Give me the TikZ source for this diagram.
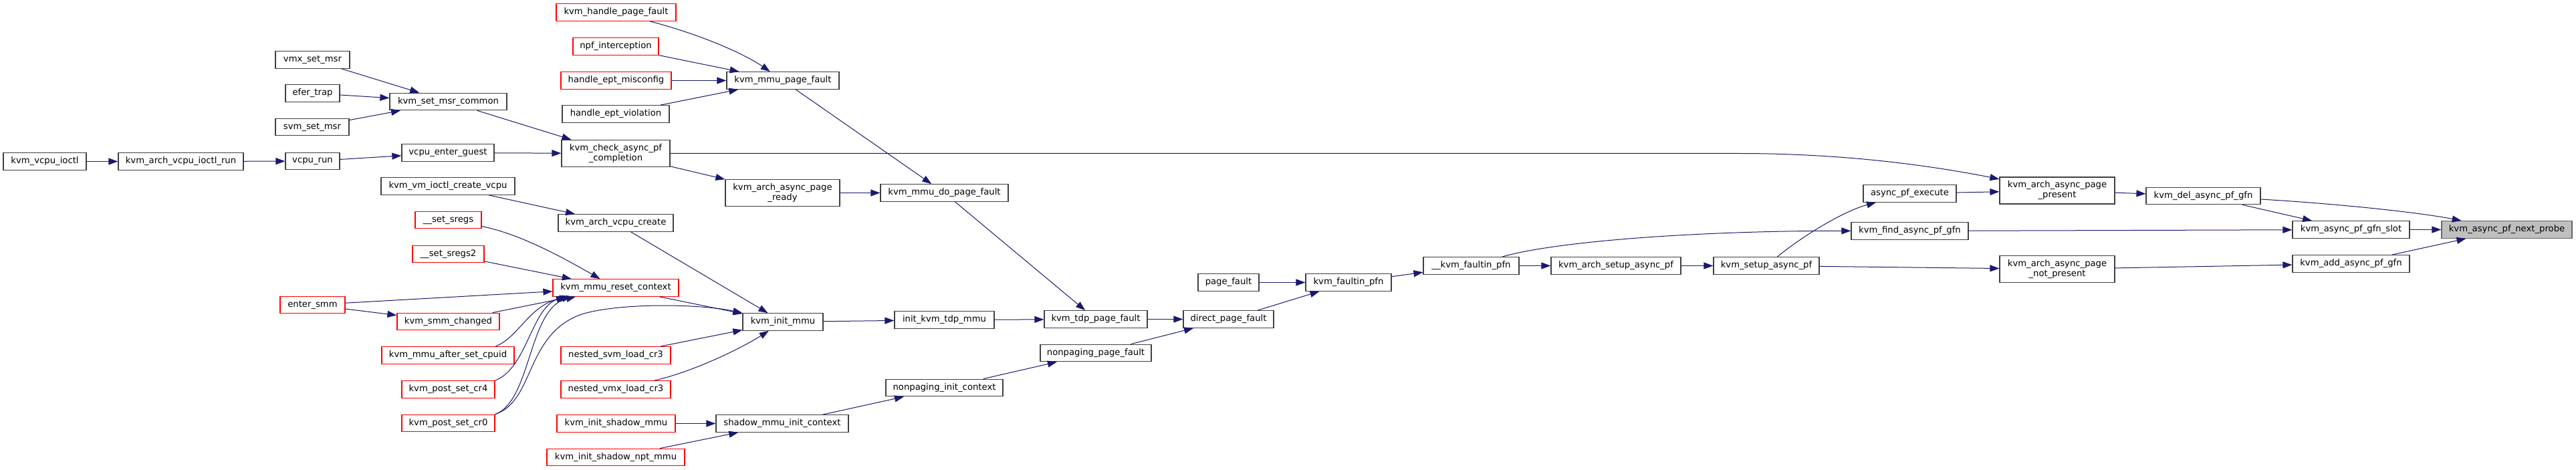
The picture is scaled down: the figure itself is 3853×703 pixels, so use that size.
\documentclass[tikz,border=0pt]{standalone}
\usepackage{fontspec}
\newfontfamily\dvs{DejaVu Sans}
\usetikzlibrary{arrows.meta,calc}
\definecolor{edgeblue}{HTML}{191970}
\definecolor{boxline}{HTML}{404040}
\definecolor{probefill}{HTML}{BFBFBF}
\definecolor{probeline}{HTML}{666666}
\tikzset{
 fn/.style={draw=boxline, line width=1.2pt, fill=white, minimum height=25.5pt, inner sep=0pt, text=black, font=\dvs\fontsize{13.2pt}{15pt}\selectfont},
 fnred/.style={fn, draw=red},
 fntwo/.style={fn, minimum height=40pt, align=center},
 fnmain/.style={fn, fill=probefill, draw=probeline},
 call/.style={draw=edgeblue, line width=1pt, -{Triangle[length=14pt,width=10pt]}},
}
\begin{document}
\begin{tikzpicture}[x=1pt,y=-1pt]
\fill[white] (0,0) rectangle (3853,703);
\useasboundingbox (0,0) rectangle (3853,703);
% column 1-2
\node[fn, minimum width=124pt] (vio) at (67,241.5) {kvm\_vcpu\_ioctl};
\node[fn, minimum width=187pt] (vior) at (270.5,241.5) {kvm\_arch\_vcpu\_ioctl\_run};
\node[fn, minimum width=81pt] (vrun) at (467.5,241) {vcpu\_run};
\node[fn, minimum width=111pt] (vmx) at (467.5,89.5) {vmx\_set\_msr};
\node[fn, minimum width=81pt] (efer) at (467.5,139.5) {efer\_trap};
\node[fn, minimum width=110pt] (svm) at (467,190) {svm\_set\_msr};
\node[fnred, minimum width=97pt] (esmm) at (467.5,456) {enter\_smm};
% column 3
\node[fn, minimum width=175pt] (msrc) at (670.5,152) {kvm\_set\_msr\_common};
\node[fn, minimum width=138pt] (veg) at (670,228.5) {vcpu\_enter\_guest};
\node[fn, minimum width=200pt] (vmcreate) at (670,278.5) {kvm\_vm\_ioctl\_create\_vcpu};
\node[fnred, minimum width=99pt] (ss) at (670.5,329) {\_\_set\_sregs};
\node[fnred, minimum width=107pt] (ss2) at (670.5,380) {\_\_set\_sregs2};
\node[fnred, minimum width=153pt] (smmc) at (670.5,481) {kvm\_smm\_changed};
\node[fnred, minimum width=198pt] (cpuid) at (670,531.5) {kvm\_mmu\_after\_set\_cpuid};
\node[fnred, minimum width=139pt] (cr4) at (670.5,582.5) {kvm\_post\_set\_cr4};
\node[fnred, minimum width=139pt] (cr0) at (670.5,633) {kvm\_post\_set\_cr0};
% column 4
\node[fnred, minimum width=179pt] (hpf) at (921.5,18.5) {kvm\_handle\_page\_fault};
\node[fnred, minimum width=128pt] (npf) at (921,69.5) {npf\_interception};
\node[fnred, minimum width=165pt] (mis) at (921.5,120.5) {handle\_ept\_misconfig};
\node[fn, minimum width=160pt] (viol) at (921,170.5) {handle\_ept\_violation};
\node[fntwo, minimum width=162pt] (chk) at (921,229.5) {kvm\_check\_async\_pf\\\_completion};
\node[fn, minimum width=172pt] (avc) at (921,333.5) {kvm\_arch\_vcpu\_create};
\node[fnred, minimum width=188pt] (reset) at (921,430.5) {kvm\_mmu\_reset\_context};
\node[fnred, minimum width=164pt] (nsvm) at (921,531.5) {nested\_svm\_load\_cr3};
\node[fnred, minimum width=164pt] (nvmx) at (921,582.5) {nested\_vmx\_load\_cr3};
\node[fnred, minimum width=177pt] (ism) at (921.5,633.5) {kvm\_init\_shadow\_mmu};
\node[fnred, minimum width=206pt] (isnpt) at (921,684) {kvm\_init\_shadow\_npt\_mmu};
% column 5
\node[fn, minimum width=168pt] (mpf) at (1171,120.5) {kvm\_mmu\_page\_fault};
\node[fntwo, minimum width=171pt] (ready) at (1170.5,288.5) {kvm\_arch\_async\_page\\\_ready};
\node[fn, minimum width=120pt] (imm) at (1171,481.5) {kvm\_init\_mmu};
\node[fn, minimum width=198pt] (smic) at (1170,633.5) {shadow\_mmu\_init\_context};
% column 6
\node[fn, minimum width=191pt] (mdpf) at (1412.5,288.5) {kvm\_mmu\_do\_page\_fault};
\node[fn, minimum width=149pt] (itdp) at (1412.5,478.5) {init\_kvm\_tdp\_mmu};
\node[fn, minimum width=175pt] (npic) at (1412.5,580) {nonpaging\_init\_context};
% column 7
\node[fn, minimum width=154pt] (tdppf) at (1639,477.5) {kvm\_tdp\_page\_fault};
\node[fn, minimum width=166pt] (nppf) at (1639,528) {nonpaging\_page\_fault};
% column 8
\node[fn, minimum width=91pt] (pf) at (1837.5,422.5) {page\_fault};
\node[fn, minimum width=135pt] (dpf) at (1837.5,477.5) {direct\_page\_fault};
% columns 9+
\node[fn, minimum width=128pt] (kfp) at (2017,422.5) {kvm\_faultin\_pfn};
\node[fn, minimum width=143pt] (ukfp) at (2200.5,397.5) {\_\_kvm\_faultin\_pfn};
\node[fn, minimum width=194pt] (asap) at (2417,397.5) {kvm\_arch\_setup\_async\_pf};
\node[fn, minimum width=158pt] (sap) at (2642,397.5) {kvm\_setup\_async\_pf};
\node[fn, minimum width=139pt] (ape) at (2856.5,289.5) {async\_pf\_execute};
\node[fn, minimum width=175pt] (find) at (2856.5,345.5) {kvm\_find\_async\_pf\_gfn};
\node[fntwo, minimum width=172pt] (pres) at (3077,285) {kvm\_arch\_async\_page\\\_present};
\node[fntwo, minimum width=172pt] (npres) at (3077,402.5) {kvm\_arch\_async\_page\\\_not\_present};
\node[fn, minimum width=171pt] (del) at (3295.5,293) {kvm\_del\_async\_pf\_gfn};
\node[fn, minimum width=175pt] (slot) at (3516.5,343.5) {kvm\_async\_pf\_gfn\_slot};
\node[fn, minimum width=175pt] (add) at (3516.5,394.5) {kvm\_add\_async\_pf\_gfn};
\node[fnmain, minimum width=195pt] (probe) at (3749.5,343.5) {kvm\_async\_pf\_next\_probe};

% edges
\draw[call] (vio) -- (vior);
\draw[call] (vior) -- (vrun);
\draw[call] (vrun) -- (veg);
\draw[call] (vmx) -- (msrc);
\draw[call] (efer) -- (msrc);
\draw[call] (svm) -- (msrc);
\draw[call] (msrc) -- (chk);
\draw[call] (veg) -- (chk);
\draw[call] (hpf) .. controls (1060,55) and (1120,85) .. (mpf);
\draw[call] (npf) -- (mpf);
\draw[call] (mis) -- (mpf);
\draw[call] (viol) -- (mpf);
\draw[call] (mpf) -- (mdpf);
\draw[call] (chk) -- (ready);
\draw[call] (ready) -- (mdpf);
\draw[call] (chk.east) -- (2600,229.5) .. controls (2760,229.5) and (2890,248) .. (pres);
\draw[call] (mdpf) -- (tdppf);
\draw[call] (vmcreate) -- (avc);
\draw[call] (avc) -- (imm);
\draw[call] (ss) .. controls (780,350) and (850,390) .. (reset);
\draw[call] (ss2) -- (reset);
\draw[call] (esmm) -- (reset);
\draw[call] (esmm) -- (smmc);
\draw[call] (smmc) -- (reset);
\draw[call] ([xshift=71pt]cpuid.north) .. controls (775,505) and (790,460) .. ([xshift=-75pt]reset.south);
\draw[call] (cr4.north east) .. controls (790,550) and (795,455) .. ([xshift=-70pt]reset.south);
\draw[call] (cr0.north east) .. controls (795,600) and (790,460) .. ([xshift=-60pt]reset.south);
\draw[call] (cr0.north east) .. controls (800,600) and (785,500) .. (870,470) .. controls (930,452) and (1050,455) .. (imm.north west);
\draw[call] (reset) -- (imm);
\draw[call] (nsvm) -- (imm);
\draw[call] (nvmx) .. controls (1040,555) and (1110,520) .. (imm);
\draw[call] (imm) -- (itdp);
\draw[call] (itdp) -- (tdppf);
\draw[call] (tdppf) -- (dpf);
\draw[call] (ism) -- (smic);
\draw[call] (isnpt) -- (smic);
\draw[call] (smic) -- (npic);
\draw[call] (npic) -- (nppf);
\draw[call] (nppf) -- (dpf);
\draw[call] (pf) -- (kfp);
\draw[call] (dpf) -- (kfp);
\draw[call] (kfp) -- (ukfp);
\draw[call] (ukfp) -- (asap);
\draw[call] (ukfp) .. controls (2330,360) and (2550,345) .. (find);
\draw[call] (asap) -- (sap);
\draw[call] (sap) .. controls (2700,350) and (2760,315) .. (ape);
\draw[call] (sap) -- (npres);
\draw[call] (ape) -- (pres);
\draw[call] (pres) -- (del);
\draw[call] (find) -- (slot);
\draw[call] (del) -- (slot);
\draw[call] (del) .. controls (3500,305) and (3620,318) .. (probe);
\draw[call] (slot) -- (probe);
\draw[call] (add) -- (probe);
\draw[call] (npres) -- (add);
\end{tikzpicture}
\end{document}
